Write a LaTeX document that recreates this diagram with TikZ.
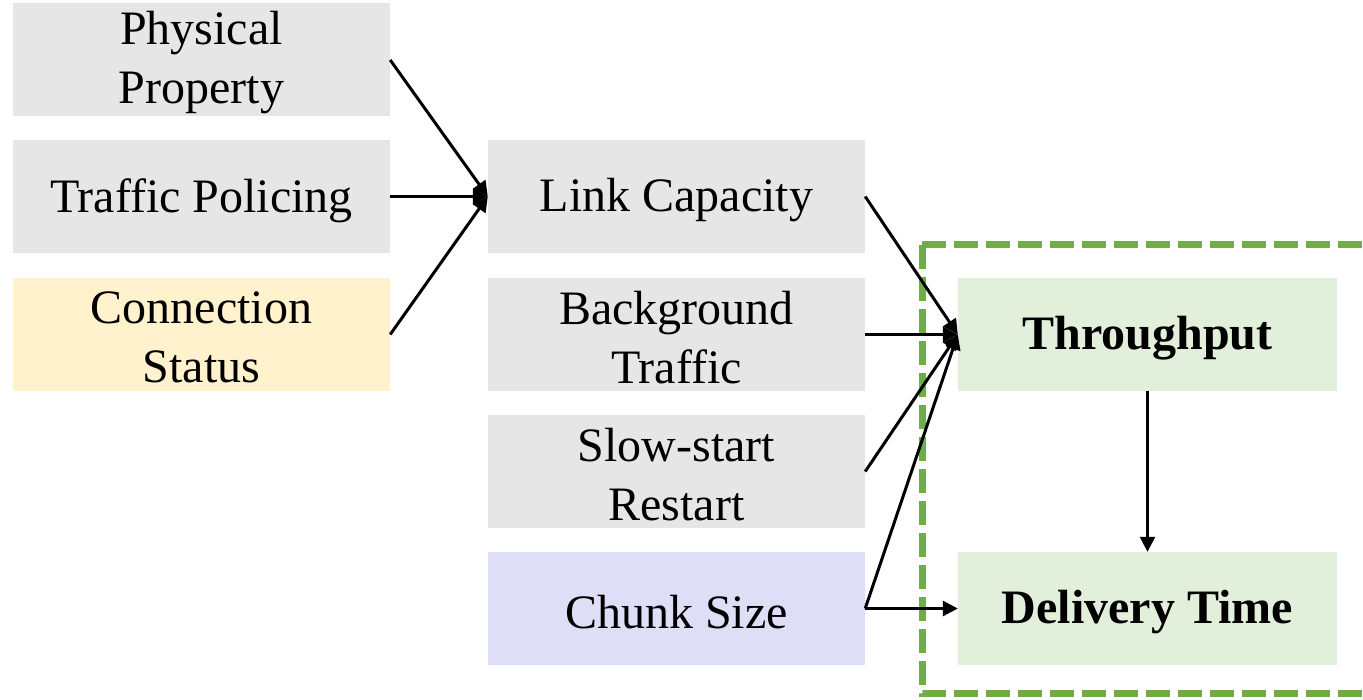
\documentclass[tikz,border=0pt]{standalone}
\usepackage{fontspec}
\setmainfont{Liberation Serif}
\usetikzlibrary{arrows.meta}
\definecolor{boxgray}{HTML}{E7E6E6}
\definecolor{boxyellow}{HTML}{FFF2CC}
\definecolor{boxlav}{HTML}{DEDEF6}
\definecolor{boxgreen}{HTML}{E2EFDA}
\definecolor{dashgreen}{HTML}{70AD47}
\tikzset{
  factor/.style={minimum width=377pt, minimum height=113pt, inner sep=0pt},
  outcome/.style={factor, minimum width=379pt, fill=boxgreen},
  txt/.style={inner sep=0pt, align=center, font=\fontsize{48}{59}\selectfont},
  btxt/.style={txt, font=\fontsize{48}{59}\selectfont\bfseries},
  link/.style={line width=3pt, -{Triangle[length=15pt,width=15pt]}},
  thinlink/.style={line width=2.5pt, -{Triangle[length=15pt,width=15pt]}},
  region/.style={draw=dashgreen, line width=7pt, dash pattern=on 24pt off 8pt}
}
\begin{document}
\begin{tikzpicture}[x=1pt,y=-1pt]
\useasboundingbox (0,0) rectangle (1363,700);
\clip (0,0) rectangle (1363,700);
% input factors
\node[factor, fill=boxgray]   (pp)   at (201.5,60)    {};
\node[factor, fill=boxgray]   (tpol) at (201.5,196.5) {};
\node[factor, fill=boxyellow] (cst)  at (201.5,334.5) {};
% intermediate factors
\node[factor, fill=boxgray] (lc) at (676.5,196.5) {};
\node[factor, fill=boxgray] (bg) at (676.5,334.5) {};
\node[factor, fill=boxgray] (ss) at (676.5,471.5) {};
\node[factor, fill=boxlav]  (cs) at (676.5,608.5) {};
% outcomes
\node[outcome] (tp) at (1147.5,334.5) {};
\node[outcome] (dt) at (1147.5,608.5) {};
% labels
\node[txt]  (ppt)   at ([yshift=-3pt]pp)   {Physical\\Property};
\node[txt]  (tpolt) at ([yshift=-4pt]tpol) {Traffic Policing};
\node[txt]  (cstt)  at ([yshift=-3pt]cst)  {Connection\\Status};
\node[txt]  (lct)   at ([yshift=-4pt]lc)   {Link Capacity};
\node[txt]  (bgt)   at ([yshift=-3pt]bg)   {Background\\Traffic};
\node[txt]  (sst)   at ([yshift=-3pt]ss)   {Slow-start\\Restart};
\node[txt]  (cst2)  at ([yshift=-4pt]cs)   {Chunk Size};
\node[btxt] (tpt)   at ([yshift=-4pt]tp)   {Throughput};
\node[btxt] (dtt)   at ([yshift=-4pt]dt)   {Delivery Time};
% dashed outcome region
\draw[region] (922,245) -- (1380,245) (922,245) -- (922,693) -- (1380,693);
% connectors
\draw[link] (pp.east) -- (lc.west);
\draw[link] (tpol.east) -- (lc.west);
\draw[link] (cst.east) -- (lc.west);
\draw[link] (lc.east) -- (tp.west);
\draw[link] (bg.east) -- (tp.west);
\draw[link] (ss.east) -- (tp.west);
\draw[link] (cs.east) -- (tp.west);
\draw[link] (cs.east) -- (dt.west);
\draw[thinlink] (tp.south) -- (dt.north);
\end{tikzpicture}
\end{document}
